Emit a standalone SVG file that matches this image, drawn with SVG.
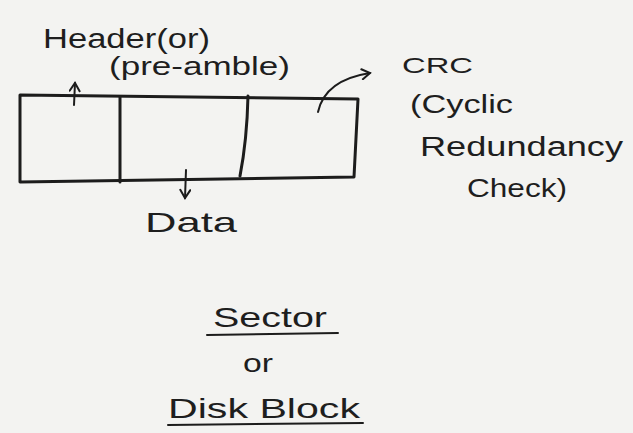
<svg xmlns="http://www.w3.org/2000/svg" width="633" height="433" viewBox="0 0 633 433">
<defs>
<style>
.ink{fill:none;stroke:#1c1c1c;stroke-width:3;stroke-linecap:round;stroke-linejoin:round}
.thin{fill:none;stroke:#1c1c1c;stroke-width:2;stroke-linecap:round;stroke-linejoin:round}
.t{font-family:"Liberation Sans","DejaVu Sans",sans-serif;fill:#1e1e1e}
</style>
<marker id="ah" viewBox="0 0 12 12" refX="10" refY="6" markerWidth="12" markerHeight="12" markerUnits="userSpaceOnUse" orient="auto">
<path d="M2,1 L10,6 L2,11" fill="none" stroke="#1c1c1c" stroke-width="2" stroke-linecap="round"/>
</marker>
</defs>
<rect width="633" height="433" fill="#f3f3f1"/>
<g id="sector-block">
<path class="ink" d="M20,95 L358,99 L354,177 L20,182 Z"/>
<path class="ink" d="M120,97 L120,182"/>
<path class="ink" d="M248,96 Q247,140 240,176"/>
</g>
<g id="header-label">
<text class="t" x="43" y="48" font-size="27" textLength="167" lengthAdjust="spacingAndGlyphs">Header(or)</text>
<text class="t" x="109" y="75" font-size="25" textLength="181" lengthAdjust="spacingAndGlyphs">(pre-amble)</text>
</g>
<g id="crc-label">
<text class="t" x="402" y="73" font-size="22" textLength="71" lengthAdjust="spacingAndGlyphs">CRC</text>
<text class="t" x="410" y="113" font-size="25" textLength="103" lengthAdjust="spacingAndGlyphs">(Cyclic</text>
<text class="t" x="420" y="156" font-size="27" textLength="203" lengthAdjust="spacingAndGlyphs">Redundancy</text>
<text class="t" x="467" y="197" font-size="25" textLength="100" lengthAdjust="spacingAndGlyphs">Check)</text>
</g>
<g id="data-label">
<text class="t" x="145" y="232" font-size="28" textLength="92" lengthAdjust="spacingAndGlyphs">Data</text>
</g>
<g id="caption">
<text class="t" x="213" y="327" font-size="28" textLength="114" lengthAdjust="spacingAndGlyphs">Sector</text>
<path class="thin" d="M207,335 L338,333"/>
<text class="t" x="243" y="372" font-size="26" textLength="30" lengthAdjust="spacingAndGlyphs">or</text>
<text class="t" x="168" y="418" font-size="28" textLength="192" lengthAdjust="spacingAndGlyphs">Disk Block</text>
<path class="thin" d="M168,425 L363,423"/>
</g>
<g id="connectors">
<path class="thin" d="M74,105 L75,83" marker-end="url(#ah)"/>
<path class="thin" d="M318,112 Q325,80 370,73" marker-end="url(#ah)"/>
<path class="thin" d="M186,170 L185,198" marker-end="url(#ah)"/>
</g>
</svg>
